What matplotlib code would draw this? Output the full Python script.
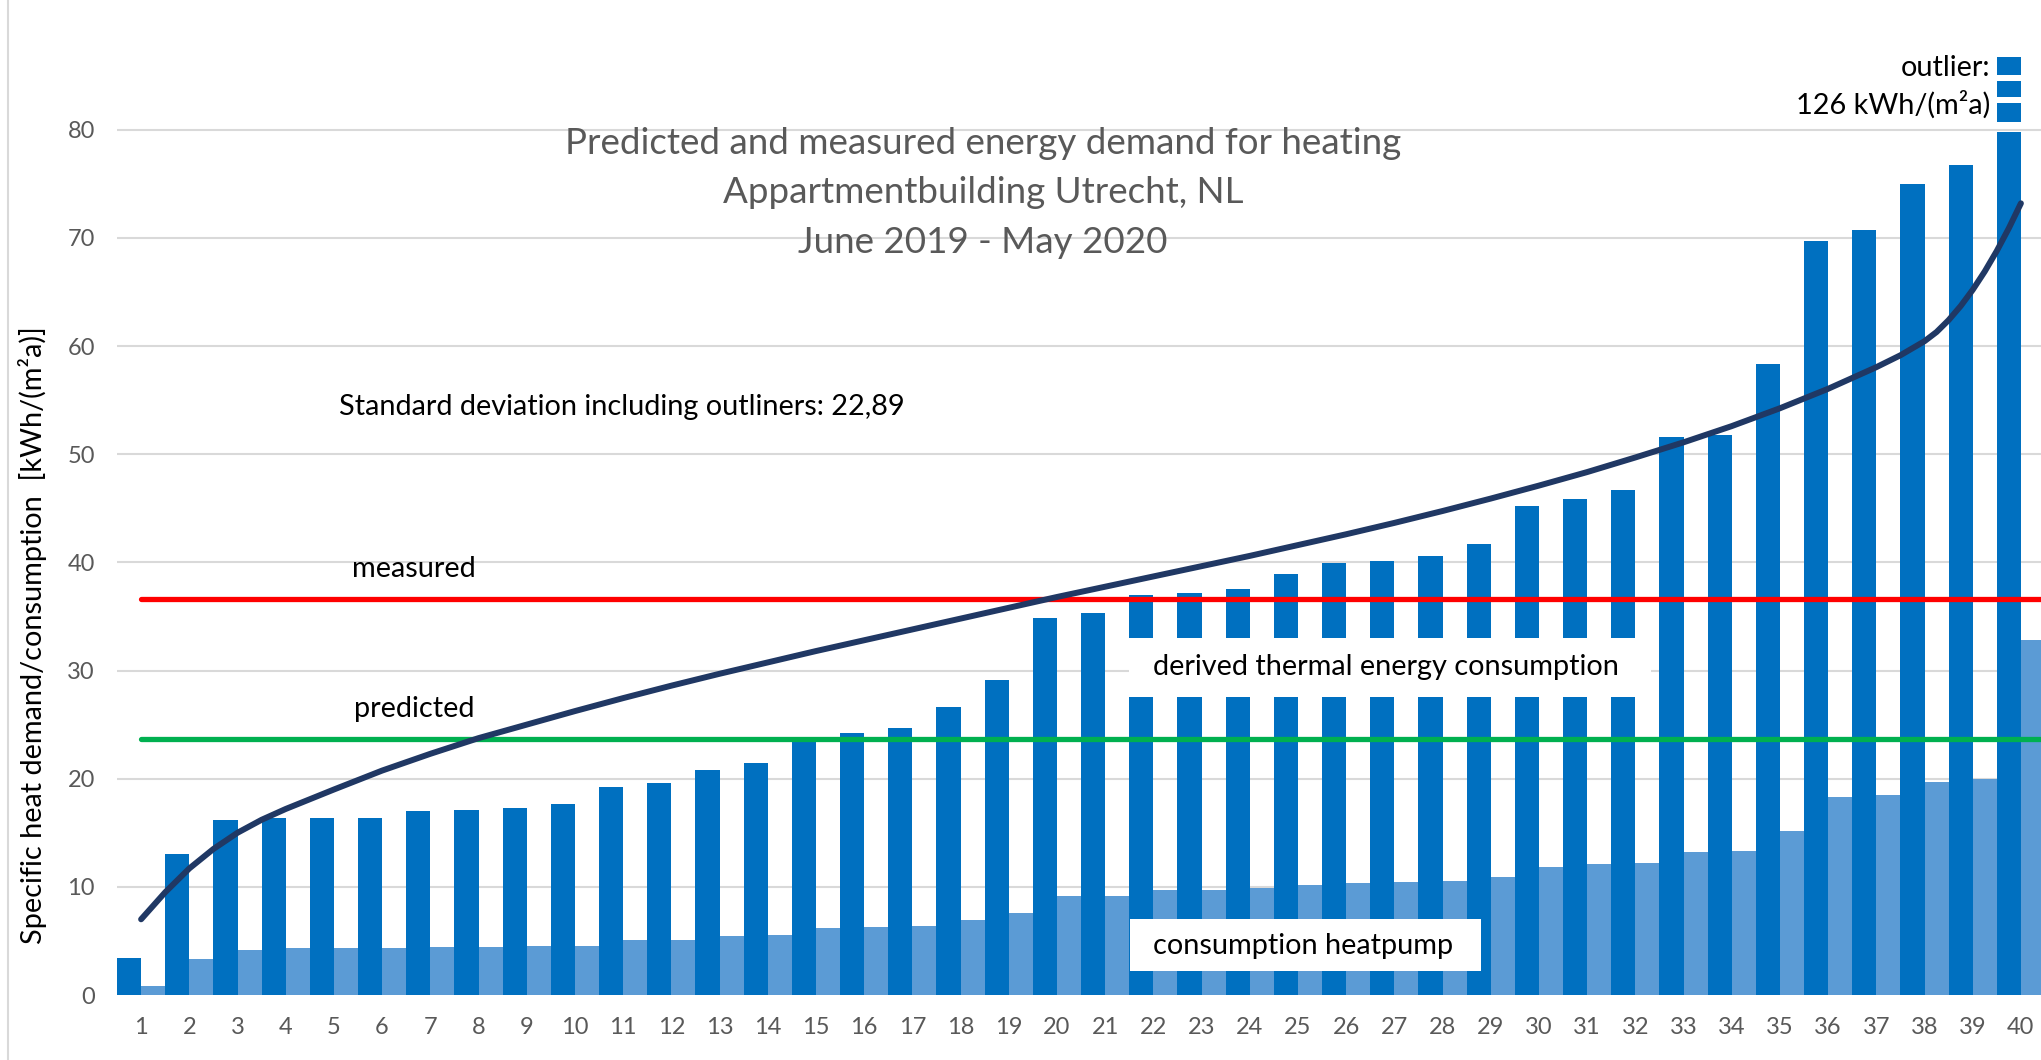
import numpy as np
import matplotlib.pyplot as plt
from matplotlib.patches import Rectangle
from matplotlib.lines import Line2D

plt.rcParams['font.family'] = ['Lato', 'DejaVu Sans']

# apartments, sorted by measured demand
apartments = list(range(1, 41))
measured_total = [3.4, 13.0, 16.2, 16.4, 16.4, 16.4, 17.0, 17.1, 17.3, 17.7,
                  19.2, 19.6, 20.8, 21.45, 23.7, 24.2, 24.7, 26.6, 29.1, 34.9,
                  35.3, 37.0, 37.15, 37.5, 38.9, 39.9, 40.15, 40.55, 41.7, 45.2,
                  45.9, 46.7, 51.55, 51.8, 58.3, 69.75, 70.75, 75.0, 76.75, 126.0]
heatpump = [0.8, 3.3, 4.2, 4.3, 4.3, 4.3, 4.4, 4.4, 4.5, 4.5,
            5.1, 5.1, 5.45, 5.55, 6.15, 6.3, 6.4, 6.95, 7.55, 9.2,
            9.2, 9.7, 9.7, 9.85, 10.2, 10.4, 10.45, 10.55, 10.95, 11.85,
            12.1, 12.25, 13.2, 13.35, 15.2, 18.3, 18.5, 19.7, 20.0, 32.8]

# trendline
trend_x = [1, 1.5, 2, 2.5, 3, 3.5, 4, 5, 6, 7, 8, 9, 10, 11, 12, 13, 14, 15,
           16, 17, 18, 19, 20, 21, 22, 23, 24, 25, 26, 27, 28, 29, 30, 31, 32,
           33, 34, 35, 36, 37, 37.5, 38, 38.25, 38.5, 38.75, 39, 39.25, 39.5,
           39.75, 40]
trend_y = [7.0, 9.5, 11.7, 13.5, 15.0, 16.2, 17.2, 19.0, 20.75, 22.3, 23.75,
           25.0, 26.25, 27.45, 28.6, 29.7, 30.75, 31.8, 32.8, 33.8, 34.8, 35.8,
           36.8, 37.75, 38.7, 39.65, 40.6, 41.6, 42.6, 43.65, 44.75, 45.9,
           47.1, 48.35, 49.7, 51.1, 52.6, 54.25, 56.05, 58.05, 59.15, 60.45,
           61.3, 62.4, 63.7, 65.2, 66.9, 68.8, 70.9, 73.2]

measured_avg = 36.6
predicted_avg = 23.7

title_lines = ["Predicted and measured energy demand for heating",
               "Appartmentbuilding Utrecht, NL",
               "June 2019 - May 2020"]

dark = '#0070C0'
light = '#5B9BD5'
gray = '#595959'

fig = plt.figure(figsize=(20.41, 10.60), dpi=100)
ax = fig.add_axes([117/2041, 65/1060, 1 - 117/2041, 995/1060])

x = np.array(apartments)
cap = 79.8
shown = [min(v, cap) for v in measured_total]
ax.bar(x - 0.25, shown, width=0.5, color=dark, zorder=2)
ax.bar(x + 0.25, heatpump, width=0.5, color=light, zorder=2)

# broken top of the outlier bar
for lo, hi in [(80.75, 82.45), (83.0, 84.5), (85.05, 86.7)]:
    ax.bar(x[-1] - 0.25, hi - lo, bottom=lo, width=0.5, color=dark, zorder=2)

ax.plot([1, 40.6], [measured_avg]*2, color='#FF0000', lw=3.8,
        solid_capstyle='round', zorder=3)
ax.plot([1, 40.6], [predicted_avg]*2, color='#00B050', lw=3.8,
        solid_capstyle='round', zorder=3)
ax.plot(trend_x, trend_y, color='#203864', lw=4.3,
        solid_capstyle='round', solid_joinstyle='round', zorder=4)

# white label boxes
ax.add_patch(Rectangle((21.5, 27.6), 10.83, 5.45, facecolor='white',
                       edgecolor='none', zorder=5))
ax.add_patch(Rectangle((21.52, 2.2), 7.28, 4.82, facecolor='white',
                       edgecolor='none', zorder=5))

fs = 20.8
ax.text(26.83, 30.3, "derived thermal energy consumption", fontsize=fs,
        ha='center', va='center', zorder=6)
ax.text(25.1, 4.55, "consumption heatpump", fontsize=fs,
        ha='center', va='center', zorder=6)
ax.text(5.1, 54.4, "Standard deviation including outliners: 22,89",
        fontsize=fs, ha='left', va='center')
ax.text(5.38, 39.4, "measured", fontsize=fs, ha='left', va='center')
ax.text(5.42, 26.4, "predicted", fontsize=fs, ha='left', va='center')
ax.text(39.36, 85.75, "outlier:", fontsize=fs, ha='right', va='center')
ax.text(39.36, 82.3, "126 kWh/(m²a)", fontsize=fs, ha='right', va='center')

ax.set_xlim(0.5, 0.5 + (2041 - 117) / 48.2)
ax.set_ylim(0, 92.0)
ax.set_yticks(range(0, 81, 10))
ax.set_xticks(x)
ax.yaxis.grid(True, color='#D9D9D9', lw=1.5)
ax.set_axisbelow(True)
for s in ax.spines.values():
    s.set_visible(False)
ax.tick_params(axis='both', length=0, labelsize=17, labelcolor=gray)
ax.tick_params(axis='x', pad=16)
ax.tick_params(axis='y', pad=16)

for i, line in enumerate(title_lines):
    fig.text(983/2041, 1 - (143 + 49.5*i)/1060, line, fontsize=26.5,
             color=gray, ha='center', va='center')

fig.text(32.5/2041, 1 - 635/1060,
         "Specific heat demand/consumption  [kWh/(m²a)]", fontsize=fs,
         rotation=90, ha='center', va='center')

fig.add_artist(Line2D([8/2041, 8/2041], [0, 1], color='#D9D9D9', lw=1.5))

fig.savefig('out.png', dpi=100)
